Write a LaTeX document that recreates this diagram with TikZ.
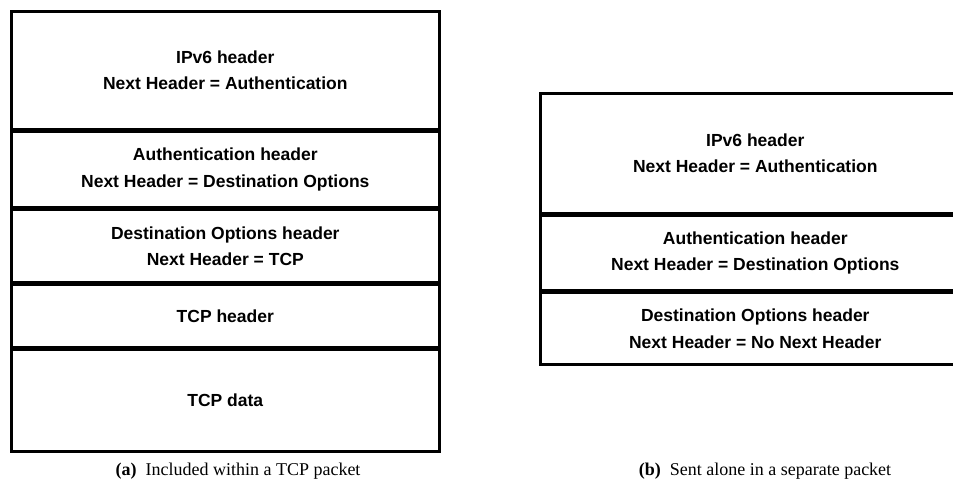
\documentclass[tikz,border=0pt]{standalone}
\usepackage{fontspec}
\setmainfont{Liberation Serif}
\newfontfamily\boxfont{Liberation Sans}
\begin{document}
\begin{tikzpicture}[x=1pt,y=-1pt,
  layer/.style={draw, line width=2.6pt, minimum width=428pt, inner sep=0pt,
    font=\boxfont\bfseries\fontsize{17.5}{26.5}\selectfont, align=center, anchor=north west},
  captiontext/.style={font=\fontsize{18}{22}\selectfont}]
\clip (0,0) rectangle (953,487);
% (a) stack
\node[layer, minimum height=118pt] (ipa) at (10,10) {IPv6 header\\Next Header = Authentication};
\node[layer, minimum height=75pt] (aha) at (ipa.south west) {Authentication header\\Next Header = Destination Options};
\node[layer, minimum height=73pt] (doa) at (aha.south west) {Destination Options header\\Next Header = TCP};
\node[layer, minimum height=62pt] (tcph) at (doa.south west) {TCP header};
\node[layer, minimum height=102pt] (tcpd) at (tcph.south west) {TCP data};
% (b) stack
\node[layer, minimum width=430pt, minimum height=120pt] (ipb) at (539,92) {IPv6 header\\Next Header = Authentication};
\node[layer, minimum width=430pt, minimum height=74pt] (ahb) at (ipb.south west) {Authentication header\\Next Header = Destination Options};
\node[layer, minimum width=430pt, minimum height=72pt] (dob) at (ahb.south west) {Destination Options header\\Next Header = No Next Header};
% captions
\node[captiontext] (capa) at (238,471) {\textbf{(a)}\enspace Included within a TCP packet};
\node[captiontext] (capb) at (765,471) {\textbf{(b)}\enspace Sent alone in a separate packet};
\end{tikzpicture}
\end{document}
